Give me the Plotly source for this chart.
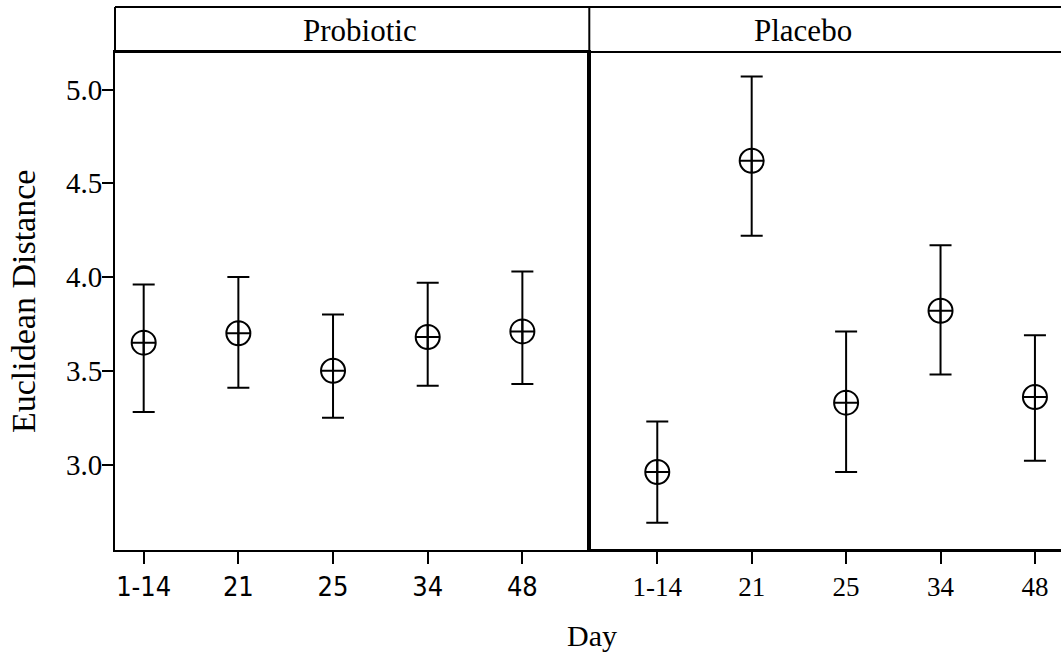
import plotly.graph_objects as go

# Day categories shared by both panels
days = ["1-14", "21", "25", "34", "48"]

# Probiotic group: mean and 95% CI limits
probiotic_mean = [3.65, 3.70, 3.50, 3.68, 3.71]
probiotic_upper = [3.96, 4.00, 3.80, 3.97, 4.03]
probiotic_lower = [3.28, 3.41, 3.25, 3.42, 3.43]

# Placebo group: mean and 95% CI limits
placebo_mean = [2.96, 4.62, 3.33, 3.82, 3.36]
placebo_upper = [3.23, 5.07, 3.71, 4.17, 3.69]
placebo_lower = [2.69, 4.22, 2.96, 3.48, 3.02]

y_ticks = [3.0, 3.5, 4.0, 4.5, 5.0]
panel_titles = ["Probiotic", "Placebo"]

SERIF = "Liberation Serif, Times New Roman, serif"
NARROW = "Liberation Sans Narrow, Arial Narrow, DejaVu Sans Condensed, Liberation Sans, sans-serif"

W, H = 1061, 656
ML, MR, MT, MB = 115, 0, 52, 106
PW, PH = W - ML - MR, H - MT - MB


def px_x(px):
    return (px - ML) / PW


def px_y(py):
    return (H - MB - py) / PH


split = px_x(589.3)


def err(mean, upper, lower):
    return dict(
        type="data",
        symmetric=False,
        array=[u - m for u, m in zip(upper, mean)],
        arrayminus=[m - l for m, l in zip(mean, lower)],
        color="black",
        thickness=2,
        width=11,
    )


marker_style = dict(symbol="circle-cross-open", size=24, color="black",
                    line=dict(width=2, color="black"))

fig = go.Figure()
fig.add_trace(go.Scatter(
    x=days, y=probiotic_mean, mode="markers", marker=marker_style,
    error_y=err(probiotic_mean, probiotic_upper, probiotic_lower),
    xaxis="x", yaxis="y", showlegend=False,
))
fig.add_trace(go.Scatter(
    x=days, y=placebo_mean, mode="markers", marker=marker_style,
    error_y=err(placebo_mean, placebo_upper, placebo_lower),
    xaxis="x2", yaxis="y2", showlegend=False,
))

y_range = [2.544, 5.2]
common_x = dict(type="category", categoryorder="array", categoryarray=days,
                showline=True, linecolor="black", linewidth=2,
                ticks="outside", ticklen=12, tickwidth=2, tickcolor="black",
                showgrid=False, zeroline=False, fixedrange=True)

fig.update_layout(
    width=W, height=H,
    margin=dict(l=ML, r=MR, t=MT, b=MB, pad=0),
    paper_bgcolor="white", plot_bgcolor="white",
    xaxis=dict(common_x, domain=[0, split], range=[-0.303, 4.707],
               tickfont=dict(family=NARROW, size=27, color="black"),
               mirror=True, anchor="y"),
    xaxis2=dict(common_x, domain=[split, 1], range=[-0.72, 4.276],
                tickfont=dict(family=SERIF, size=27, color="black"),
                mirror=False, anchor="y2"),
    yaxis=dict(range=y_range, tickvals=y_ticks,
               ticktext=[f"{v:.1f}" for v in y_ticks],
               showline=True, linecolor="black", linewidth=2, mirror=True,
               ticks="outside", ticklen=11, tickwidth=2, tickcolor="black",
               ticklabelstandoff=-6,
               tickfont=dict(family=SERIF, size=29, color="black"),
               showgrid=False, zeroline=False, anchor="x", fixedrange=True),
    yaxis2=dict(range=y_range, showticklabels=False, ticks="",
                showline=True, linecolor="black", linewidth=2, mirror=False,
                showgrid=False, zeroline=False, anchor="x2", fixedrange=True),
)

# Strip headers above each panel
strip_top = px_y(7)
line_style = dict(color="black", width=2)
shapes = [
    dict(type="line", xref="paper", yref="paper", x0=0, x1=1,
         y0=strip_top, y1=strip_top, line=line_style),
    dict(type="line", xref="paper", yref="paper", x0=0, x1=1,
         y0=1, y1=1, line=line_style),
    dict(type="line", xref="paper", yref="paper", x0=0, x1=0,
         y0=1, y1=strip_top, line=line_style),
    dict(type="line", xref="paper", yref="paper", x0=split, x1=split,
         y0=1, y1=strip_top, line=line_style),
    dict(type="line", xref="paper", yref="paper", x0=split, x1=1,
         y0=0, y1=0, line=line_style),
]
fig.update_layout(shapes=shapes)

annotations = [
    dict(text=panel_titles[0], x=px_x(359.7), y=px_y(31), size=31),
    dict(text=panel_titles[1], x=px_x(802.7), y=px_y(31), size=31),
    dict(text="Day", x=px_x(592), y=px_y(635), size=30),
    dict(text="Euclidean Distance", x=px_x(23), y=px_y(302), size=34,
         textangle=-90),
]
for a in annotations:
    size = a.pop("size")
    fig.add_annotation(xref="paper", yref="paper", showarrow=False,
                       xanchor="center", yanchor="middle",
                       font=dict(family=SERIF, size=size, color="black"), **a)

fig.write_html("out.html")
